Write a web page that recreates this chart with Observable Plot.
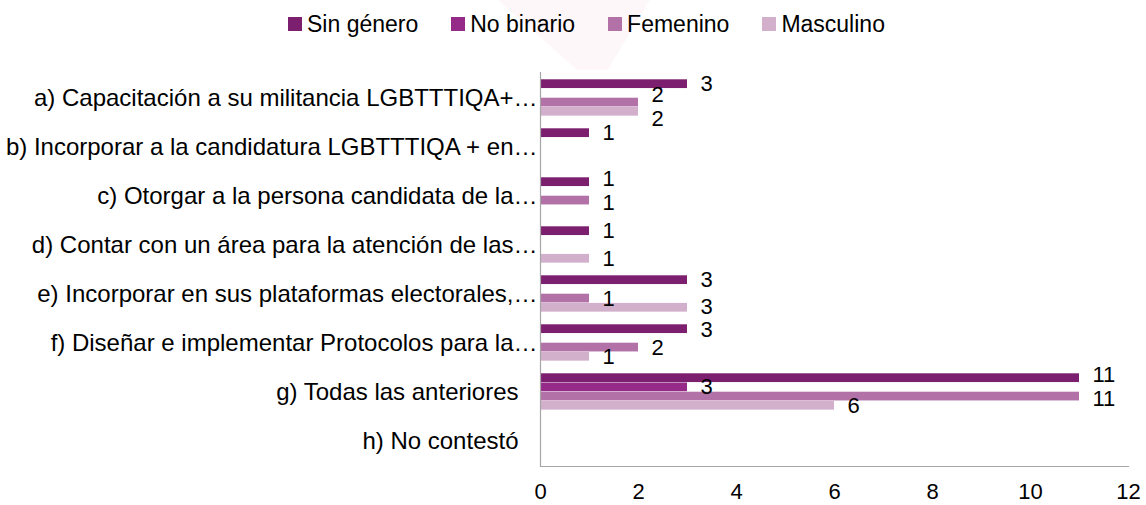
<!DOCTYPE html>
<html>
<head>
<meta charset="utf-8">
<script src="https://cdn.jsdelivr.net/npm/d3@7"></script>
<script src="https://cdn.jsdelivr.net/npm/@observablehq/plot@0.6"></script>
<style>
  html, body { margin: 0; padding: 0; background: #ffffff; }
  body { width: 1146px; height: 505px; position: relative; overflow: hidden; font-family: "Liberation Sans", Arial, sans-serif; }
  #wm { position: absolute; left: 498px; top: 0; width: 152px; height: 70px; background: #fef7fa;
        clip-path: polygon(0 0, 100% 0, 72% 100%, 52% 100%); z-index: 0; }
  #legend { position: relative; z-index: 1; height: 45px; display: flex; align-items: center; padding-left: 288px; box-sizing: border-box; padding-top: 3px; }
  .item { display: flex; align-items: center; font-size: 23px; color: #000; margin-right: 33px; }
  .sw { width: 14px; height: 14px; margin-right: 5px; }
  #chart { position: relative; z-index: 1; }
</style>
</head>
<body>
<div id="wm"></div>
<div id="legend"></div>
<div id="chart"></div>
<script>
const categories = [
  "a) Capacitación a su militancia LGBTTTIQA+…",
  "b) Incorporar a la candidatura LGBTTTIQA + en…",
  "c) Otorgar a la persona candidata de la…",
  "d) Contar con un área para la atención de las…",
  "e) Incorporar en sus plataformas electorales,…",
  "f) Diseñar e implementar Protocolos para la…",
  "g) Todas las anteriores",
  "h) No contestó"
];
const truncatedLabels = categories.slice(0, 6);
const fullLabels = categories.slice(6);
const series = ["Sin género", "No binario", "Femenino", "Masculino"];
const sinGenero = [3, 1, 1, 1, 3, 3, 11, 0];
const noBinario = [0, 0, 0, 0, 0, 0, 3, 0];
const femenino  = [2, 0, 1, 0, 1, 2, 11, 0];
const masculino = [2, 0, 0, 1, 3, 1, 6, 0];
const seriesValues = [sinGenero, noBinario, femenino, masculino];
const colors = ["#7d1f6f", "#952a88", "#b272a8", "#d2afcb"];
const xTicks = [0, 2, 4, 6, 8, 10, 12];

// legend
const legend = document.getElementById("legend");
series.forEach((s, i) => {
  const it = document.createElement("div");
  it.className = "item";
  const sw = document.createElement("span");
  sw.className = "sw";
  sw.style.background = colors[i];
  it.appendChild(sw);
  it.appendChild(document.createTextNode(s));
  legend.appendChild(it);
});

const width = 1146, height = 460, marginTop = 27, marginBottom = 39, marginLeft = 540, marginRight = 18;
const bandH = (height - marginTop - marginBottom) / categories.length;
const slotStart = 6.3, slotStep = 9.2, barH = 9.0;
const pxPerUnit = (width - marginLeft - marginRight) / 12;
const labelDx = 13, charW = 12.5, minGap = 24;

const marks = [];
const labels = [];
seriesValues.forEach((vals, i) => {
  const rows = categories.map((c, j) => ({cat: c, ci: j, value: vals[j], series: series[i], si: i})).filter(d => d.value > 0);
  const top = slotStart + slotStep * i;
  marks.push(Plot.barX(rows, {
    y: "cat", x1: 0, x2: "value", fill: colors[i],
    insetTop: top, insetBottom: bandH - top - barH
  }));
  rows.forEach(r => labels.push({...r, off: top + barH / 2 - bandH / 2}));
});

// spread labels that would collide (overlapping horizontally and too close vertically)
const absY = l => l.ci * bandH + bandH / 2 + l.off;
for (let pass = 0; pass < 4; pass++) {
  const ls = labels.slice().sort((a, b) => absY(a) - absY(b));
  for (let a = 0; a < ls.length; a++) {
    for (let b = a + 1; b < ls.length; b++) {
      const A = ls[a], B = ls[b];
      const ax0 = A.value * pxPerUnit, ax1 = ax0 + String(A.value).length * charW;
      const bx0 = B.value * pxPerUnit, bx1 = bx0 + String(B.value).length * charW;
      const gap = absY(B) - absY(A);
      if (ax0 < bx1 && bx0 < ax1 && gap < minGap) {
        const push = (minGap - gap) / 2;
        A.off -= push;
        B.off += push;
      }
    }
  }
}
labels.forEach(l => {
  marks.push(Plot.text([l], {
    y: "cat", x: "value", text: d => String(d.value),
    textAnchor: "start", dx: labelDx, dy: l.off,
    fill: "#000", fontSize: 22
  }));
});

const chart = Plot.plot({
  width,
  height,
  marginTop,
  marginBottom,
  marginLeft,
  marginRight,
  style: {background: "transparent", fontFamily: "'Liberation Sans', Arial, sans-serif", color: "#000"},
  x: {domain: [0, 12]},
  y: {domain: categories, padding: 0},
  marks: [
    ...marks,
    Plot.ruleX([0], {stroke: "#a6a6a6", strokeWidth: 1.2}),
    Plot.frame({anchor: "bottom", stroke: "#a6a6a6", strokeWidth: 1.2}),
    Plot.axisX({ticks: xTicks, tickSize: 0, tickPadding: 17, fontSize: 22, label: null, tickFormat: d => String(d), fill: "#000"}),
    Plot.axisY({ticks: truncatedLabels, tickSize: 0, tickPadding: 3, fontSize: 24, label: null, fill: "#000"}),
    Plot.axisY({ticks: fullLabels, tickSize: 0, tickPadding: 22, fontSize: 24, label: null, fill: "#000"})
  ]
});
document.getElementById("chart").appendChild(chart);
</script>
</body>
</html>
